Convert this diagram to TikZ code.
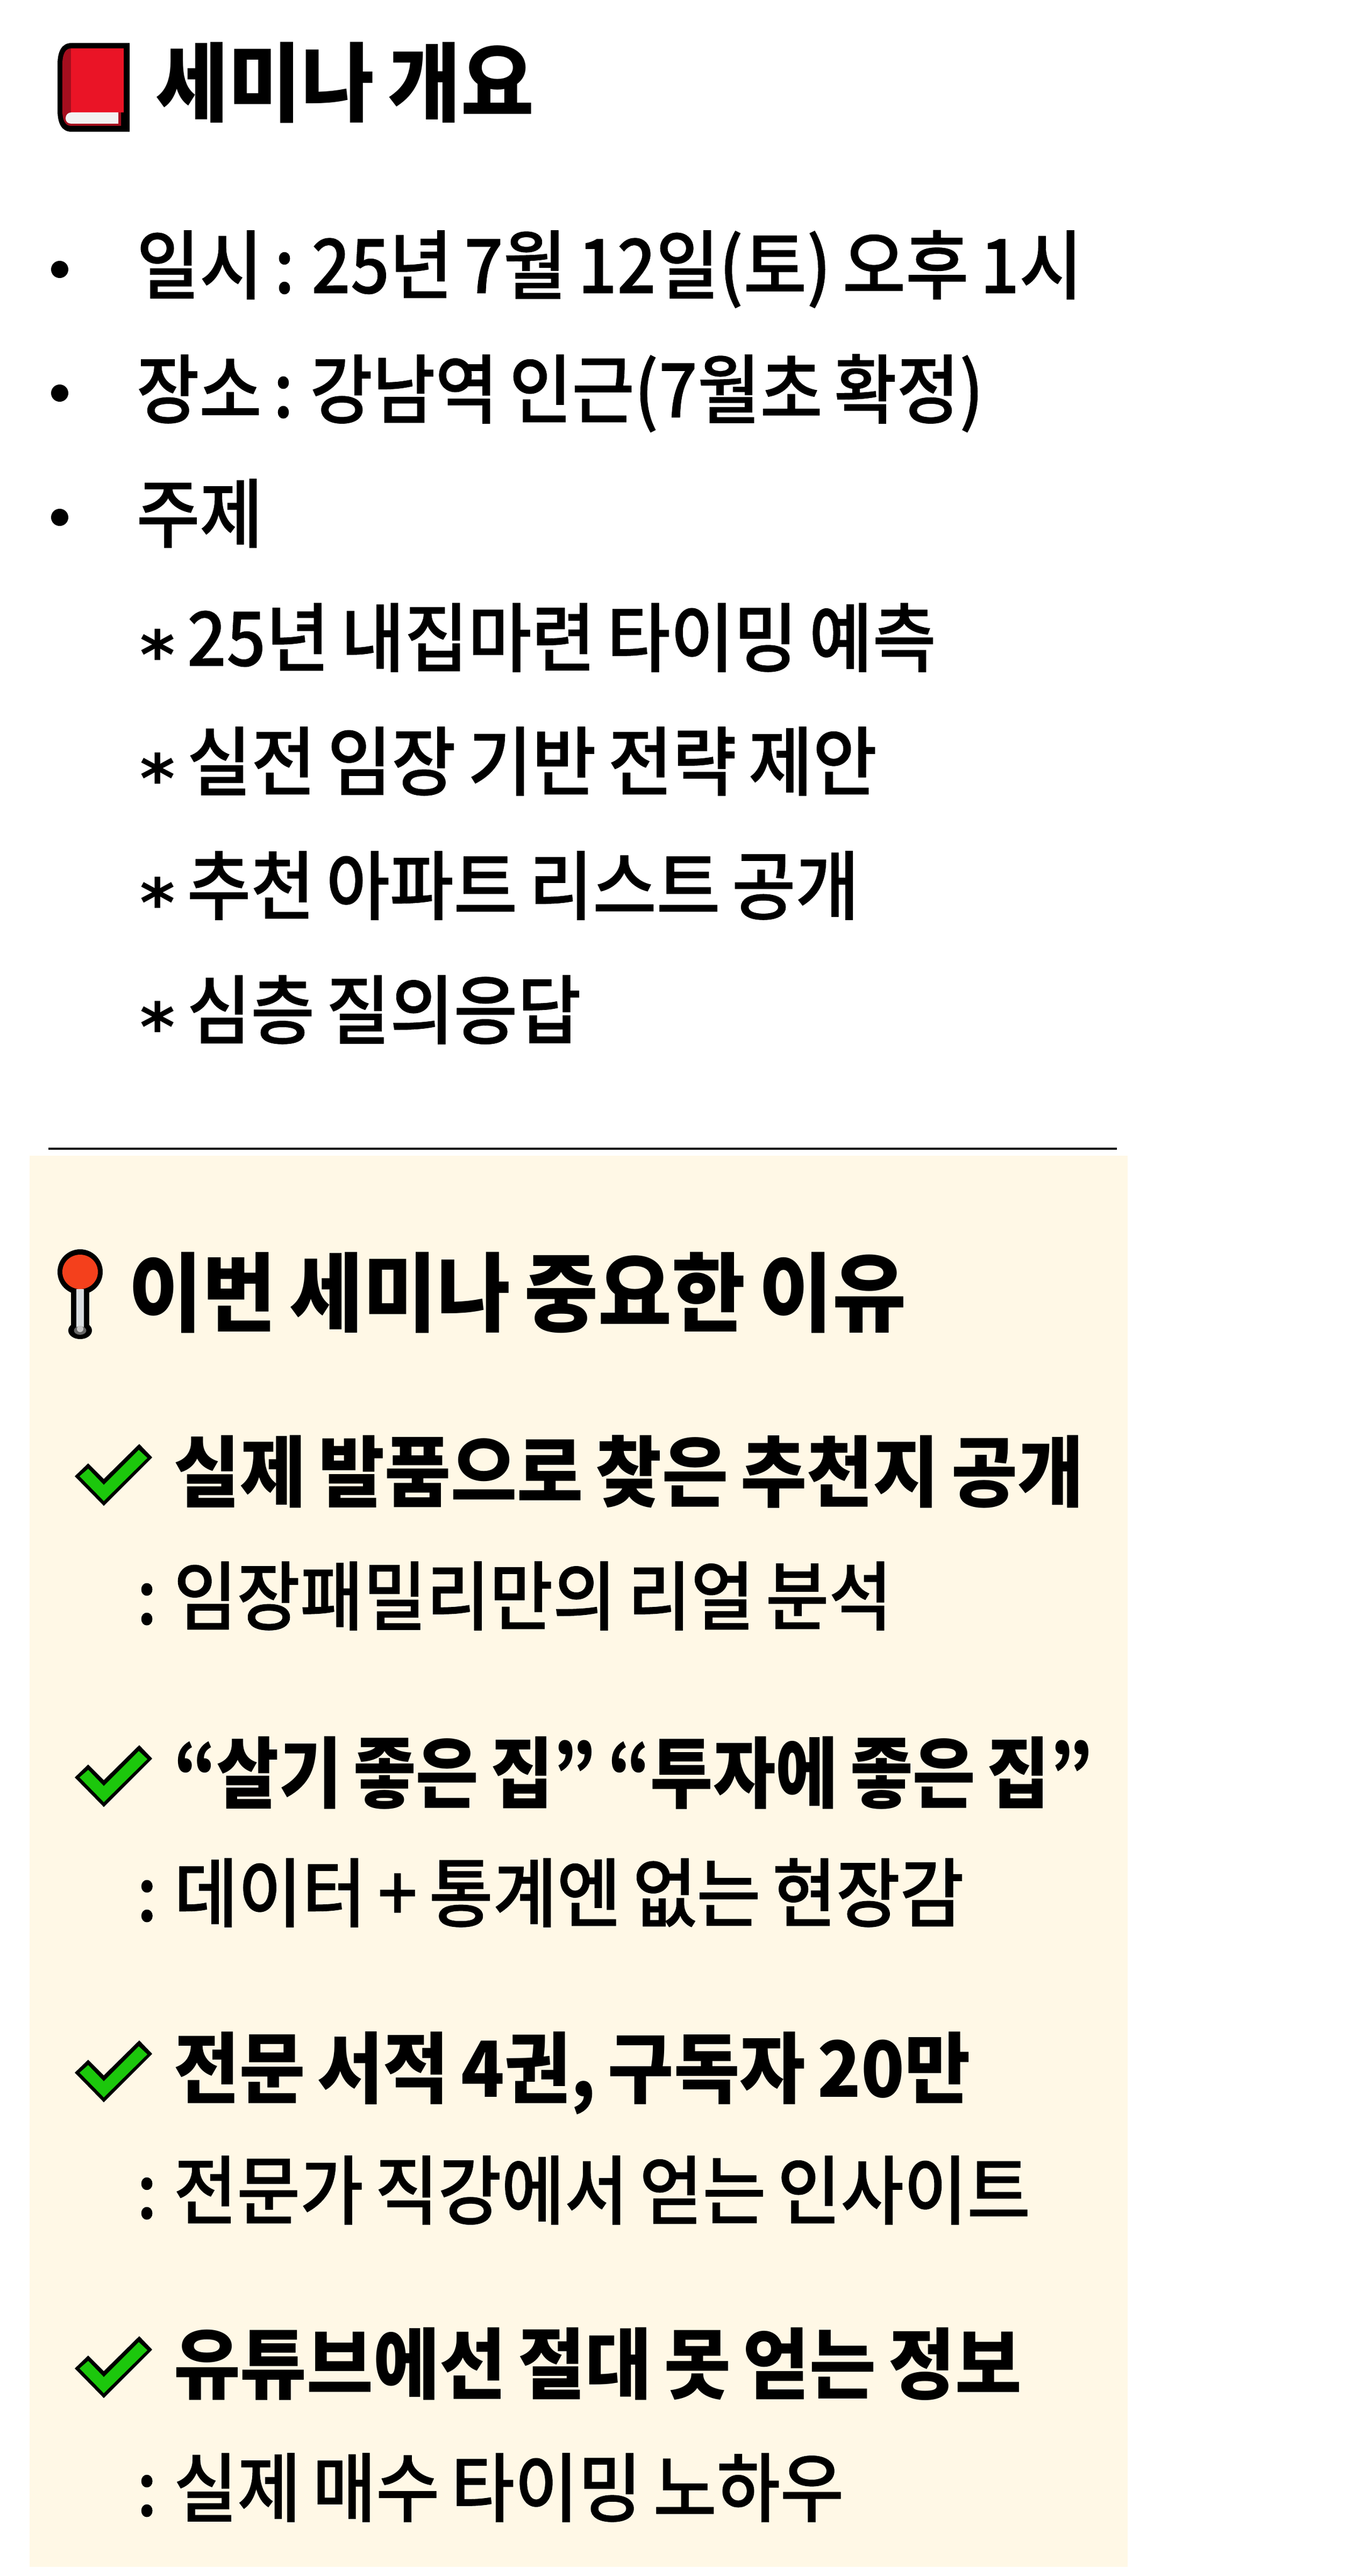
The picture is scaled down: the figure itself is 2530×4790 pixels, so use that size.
\documentclass[tikz,border=0pt]{standalone}
\usepackage{fontspec}
\newfontfamily\bodyf[FakeStretch=0.9,FakeBold=0.6,WordSpace=0.75]{Noto Sans CJK KR Medium}
\newfontfamily\headf[BoldFont={Noto Sans CJK KR Black},FakeStretch=0.9,WordSpace=0.75]{Noto Sans CJK KR}
\newfontfamily\astf{DejaVu Sans Bold}
\newsavebox{\fitbox}
\newcommand{\fitw}[2]{\sbox{\fitbox}{#2}\pgfmathsetmacro{\fitr}{#1/(\wd\fitbox/1pt)}\scalebox{\fitr}[1]{\usebox{\fitbox}}}
\newcommand{\astmark}{\makebox[88pt][l]{\raisebox{-24pt}{\fontsize{125}{125}\selectfont\astf *}}}
\definecolor{panel}{HTML}{FFF8E6}
\definecolor{checkgreen}{HTML}{1CC70C}
\tikzset{
 x=1pt,y=-1pt,
 txt/.style={anchor=base west,inner sep=0pt,outer sep=0pt,text=black},
 bodyline/.style={txt,font=\fontsize{140}{140}\selectfont\bodyf},
 subhead/.style={txt,font=\fontsize{144}{144}\selectfont\headf\bfseries},
 bigtitle/.style={txt,font=\fontsize{160}{160}\selectfont\headf\bfseries},
 bulletdot/.style={circle,fill=black,minimum size=32pt,inner sep=0pt},
 checkmark/.pic={
  \fill[black] (259,-105)--(283,-80)--(193,10)--(139,-45)--(164,-69)--(193,-40)--cycle;
  \fill[checkgreen] (258,-94)--(274,-79)--(193,1)--(148,-45)--(164,-59)--(193,-29)--cycle;
 }
}
\begin{document}
\begin{tikzpicture}
\useasboundingbox (0,0) rectangle (2530,4790);
\fill[white] (0,0) rectangle (2530,4790);
% book
\fill[black] (241,80)--(133,80) .. controls (115,80) and (107,95) .. (107,120)--(107,205) .. controls (107,230) and (115,245) .. (133,245)--(241,245)--cycle;
\fill[fill={rgb,255:red,165;green,14;blue,30}] (230,90)--(132,90) .. controls (122,90) and (116,100) .. (116,120)--(116,205) .. controls (116,225) and (122,234) .. (132,234)--(225,234)--(225,209)--(230,209)--cycle;
\fill[fill={rgb,255:red,234;green,20;blue,38}] (132,90) rectangle (230,209);
\fill[fill={rgb,255:red,242;green,242;blue,242}] (220,209)--(133,209) .. controls (126,209) and (122,214) .. (122,220) .. controls (122,226) and (126,230) .. (133,230)--(220,230)--cycle;
\node[bigtitle] (title) at (289,214) {\fitw{704}{세미나 개요}};
% list
\node[bulletdot] (b1) at (111,501) {};
\node[bulletdot] (b2) at (111,731) {};
\node[bulletdot] (b3) at (111,962) {};
\node[bodyline] (l1) at (254,545) {\fitw{1759}{일시 : 25년 7월 12일(토) 오후 1시}};
\node[bodyline] (l2) at (254,776) {\fitw{1575}{장소 : 강남역 인근(7월초 확정)}};
\node[bodyline] (l3) at (254,1007) {\fitw{235}{주제}};
\node[bodyline] (l4) at (260,1238) {\astmark\fitw{1393}{25년 내집마련 타이밍 예측}};
\node[bodyline] (l5) at (260,1468) {\astmark\fitw{1283}{실전 임장 기반 전략 제안}};
\node[bodyline] (l6) at (260,1699) {\astmark\fitw{1250}{추천 아파트 리스트 공개}};
\node[bodyline] (l7) at (260,1930) {\astmark\fitw{733}{심층 질의응답}};
\draw[line width=4pt] (90,2136) -- (2077,2136);
\fill[panel] (55,2149) rectangle (2097,4773);
% pin
\fill[black] (149,2365) ellipse [x radius=42,y radius=42];
\fill[black] (132,2390) rectangle (166,2470);
\fill[black] (149,2474) ellipse [x radius=22,y radius=16];
\fill[fill={rgb,255:red,244;green,64;blue,28}] (149,2365) ellipse [x radius=33,y radius=32];
\fill[fill={rgb,255:red,217;green,221;blue,224}] (142,2397) rectangle (156,2468);
\fill[fill={rgb,255:red,102;green,102;blue,102}] (149,2474) ellipse [x radius=11.5,y radius=8];
\fill[fill={rgb,255:red,200;green,200;blue,200}] (149,2471) circle [radius=6];
\node[bigtitle] (why) at (239,2463) {\fitw{1447}{이번 세미나 중요한 이유}};
\pic at (0,2790) {checkmark};
\pic at (0,3350) {checkmark};
\pic at (0,3899) {checkmark};
\pic at (0,4449) {checkmark};
\node[subhead] (h1) at (323,2790) {\fitw{1693}{실제 발품으로 찾은 추천지 공개}};
\node[bodyline] (s1) at (254,3020) {\fitw{1405}{: 임장패밀리만의 리얼 분석}};
\node[subhead] (h2) at (323,3350) {\fitw{1709}{“살기 좋은 집” “투자에 좋은 집”}};
\node[bodyline] (s2) at (254,3572) {\fitw{1539}{: 데이터 + 통계엔 없는 현장감}};
\node[subhead] (h3) at (323,3899) {\fitw{1482}{전문 서적 4권, 구독자 20만}};
\node[bodyline] (s3) at (254,4125) {\fitw{1662}{: 전문가 직강에서 얻는 인사이트}};
\node[subhead] (h4) at (323,4449) {\fitw{1577}{유튜브에선 절대 못 얻는 정보}};
\node[bodyline] (s4) at (254,4678) {\fitw{1315}{: 실제 매수 타이밍 노하우}};
\end{tikzpicture}
\end{document}
